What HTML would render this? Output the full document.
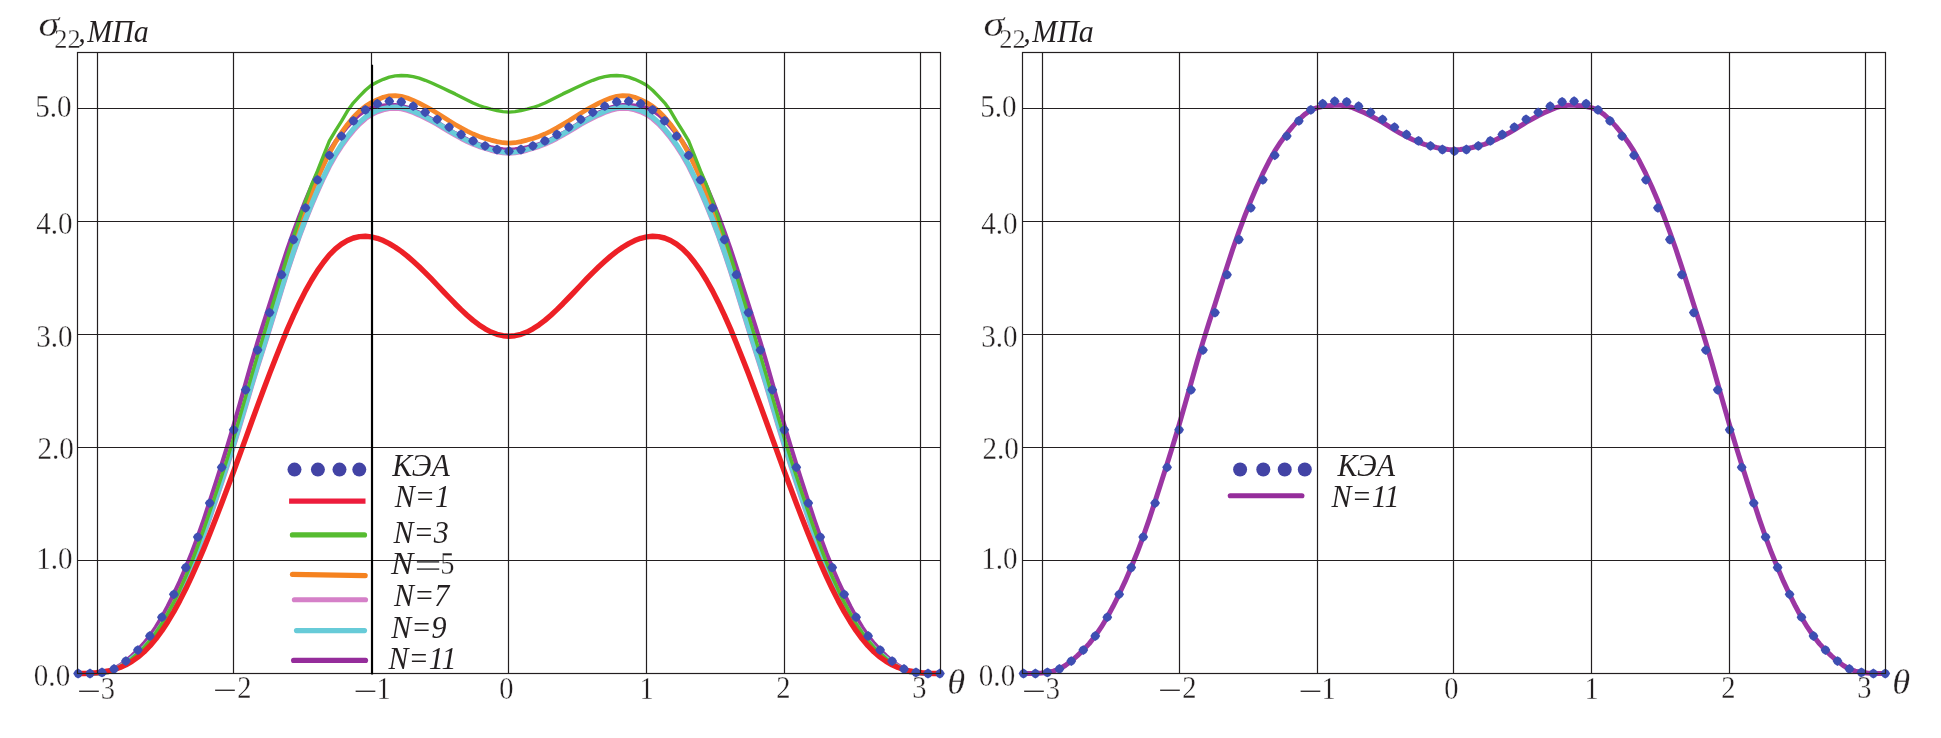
<!DOCTYPE html>
<html lang="ru"><head><meta charset="utf-8"><title>σ22 — КЭА, N</title>
<style>
html,body{margin:0;padding:0;background:#fff;}
svg{display:block;will-change:transform;}
text{font-family:"Liberation Serif","DejaVu Serif",serif;fill:#231f20;}
.it{font-style:italic;}
.t{stroke:#fff;stroke-width:0.3;}
.g{stroke:#231f20;stroke-width:1.2;fill:none;}
.c{fill:none;stroke-linejoin:round;stroke-linecap:round;}
</style></head><body>
<svg width="1941" height="738" viewBox="0 0 1941 738">
<rect width="1941" height="738" fill="#fff"/>
<defs><g id="d"><path d="M0,-4.9 Q3.6,-3.6 4.9,0 Q3.6,3.6 0,4.9 Q-3.6,3.6 -4.9,0 Q-3.6,-3.6 0,-4.9Z"/></g></defs>
<g transform="translate(0,0)">
<polyline class="c" stroke="#d683ca" stroke-width="5" points="78.1,673.5 84.1,673.5 90.0,673.5 96.0,673.4 102.0,672.8 108.0,671.8 114.0,669.9 120.0,666.8 125.9,662.9 131.9,658.5 137.9,653.7 143.9,648.3 149.9,641.8 155.9,634.0 161.9,625.4 167.8,615.8 173.8,605.2 179.8,593.5 185.8,580.7 191.8,566.6 197.8,551.4 203.8,535.1 209.7,518.1 215.7,500.7 221.7,482.9 227.7,464.6 233.7,445.8 239.7,426.2 245.7,406.2 251.6,386.3 257.6,366.8 263.6,348.0 269.6,329.0 275.6,309.5 281.6,289.9 287.5,271.1 293.5,253.1 299.5,236.2 305.5,220.3 311.5,205.5 317.5,191.5 323.5,178.3 329.4,166.3 335.4,155.7 341.4,146.4 347.4,138.0 353.4,130.6 359.4,124.1 365.4,118.8 371.3,114.7 377.3,111.8 383.3,109.8 389.3,108.6 395.3,108.3 401.3,108.8 407.3,110.3 413.2,112.5 419.2,115.1 425.2,118.0 431.2,121.1 437.2,124.4 443.2,128.0 449.1,131.6 455.1,135.1 461.1,138.4 467.1,141.4 473.1,144.2 479.1,146.5 485.1,148.4 491.0,150.2 497.0,151.7 503.0,152.8 509.0,153.2 515.0,152.8 521.0,151.7 527.0,150.2 532.9,148.4 538.9,146.5 544.9,144.2 550.9,141.4 556.9,138.4 562.9,135.1 568.9,131.6 574.8,128.0 580.8,124.4 586.8,121.1 592.8,118.0 598.8,115.1 604.8,112.5 610.7,110.3 616.7,108.8 622.7,108.3 628.7,108.6 634.7,109.8 640.7,111.8 646.7,114.7 652.6,118.8 658.6,124.1 664.6,130.6 670.6,138.0 676.6,146.4 682.6,155.7 688.6,166.3 694.5,178.3 700.5,191.5 706.5,205.5 712.5,220.3 718.5,236.2 724.5,253.1 730.5,271.1 736.4,289.9 742.4,309.5 748.4,329.0 754.4,348.0 760.4,366.8 766.4,386.3 772.3,406.2 778.3,426.2 784.3,445.8 790.3,464.6 796.3,482.9 802.3,500.7 808.3,518.1 814.2,535.1 820.2,551.4 826.2,566.6 832.2,580.7 838.2,593.5 844.2,605.2 850.2,615.8 856.1,625.4 862.1,634.0 868.1,641.8 874.1,648.3 880.1,653.7 886.1,658.5 892.1,662.9 898.0,666.8 904.0,669.9 910.0,671.8 916.0,672.8 922.0,673.4 928.0,673.5 933.9,673.5 939.9,673.5"/>
<polyline class="c" stroke="#9b36a3" stroke-width="4.4" points="78.1,673.5 84.1,673.5 90.0,673.5 96.0,673.1 102.0,672.4 108.0,671.1 114.0,669.0 120.0,665.5 125.9,661.1 131.9,655.9 137.9,650.1 143.9,643.6 149.9,636.0 155.9,627.2 161.9,617.2 167.8,606.3 173.8,594.3 179.8,581.4 185.8,567.5 191.8,552.8 197.8,536.8 203.8,519.6 209.7,501.6 215.7,483.1 221.7,464.3 227.7,445.1 233.7,425.2 239.7,404.4 245.7,383.2 251.6,362.3 257.6,342.1 263.6,323.1 269.6,304.5 275.6,285.6 281.6,266.9 287.5,249.0 293.5,232.0 299.5,215.9 305.5,200.8 311.5,186.7 317.5,173.7 323.5,161.8 329.4,151.1 335.4,141.9 341.4,133.8 347.4,126.4 353.4,119.9 359.4,114.4 365.4,110.2 371.3,107.9 377.3,106.6 383.3,105.7 389.3,105.2 395.3,105.2 401.3,106.0 407.3,107.7 413.2,110.1 419.2,112.8 425.2,115.7 431.2,119.0 437.2,122.4 443.2,126.1 449.1,129.8 455.1,133.3 461.1,136.5 467.1,139.5 473.1,142.2 479.1,144.3 485.1,146.0 491.0,147.5 497.0,148.7 503.0,149.5 509.0,149.9 515.0,149.5 521.0,148.7 527.0,147.5 532.9,146.0 538.9,144.3 544.9,142.2 550.9,139.5 556.9,136.5 562.9,133.3 568.9,129.8 574.8,126.1 580.8,122.4 586.8,119.0 592.8,115.7 598.8,112.8 604.8,110.1 610.7,107.7 616.7,106.0 622.7,105.2 628.7,105.2 634.7,105.7 640.7,106.6 646.7,107.9 652.6,110.2 658.6,114.4 664.6,119.9 670.6,126.4 676.6,133.8 682.6,141.9 688.6,151.1 694.5,161.8 700.5,173.7 706.5,186.7 712.5,200.8 718.5,215.9 724.5,232.0 730.5,249.0 736.4,266.9 742.4,285.6 748.4,304.5 754.4,323.1 760.4,342.1 766.4,362.3 772.3,383.2 778.3,404.4 784.3,425.2 790.3,445.1 796.3,464.3 802.3,483.1 808.3,501.6 814.2,519.6 820.2,536.8 826.2,552.8 832.2,567.5 838.2,581.4 844.2,594.3 850.2,606.3 856.1,617.2 862.1,627.2 868.1,636.0 874.1,643.6 880.1,650.1 886.1,655.9 892.1,661.1 898.0,665.5 904.0,669.0 910.0,671.1 916.0,672.4 922.0,673.1 928.0,673.5 933.9,673.5 939.9,673.5"/>
<polyline class="c" stroke="#f6872a" stroke-width="4.7" points="78.1,673.5 84.1,673.5 90.0,673.5 96.0,673.4 102.0,672.9 108.0,671.9 114.0,670.0 120.0,666.9 125.9,662.9 131.9,658.5 137.9,653.5 143.9,647.8 149.9,641.1 155.9,633.1 161.9,624.2 167.8,614.3 173.8,603.4 179.8,591.3 185.8,578.1 191.8,563.6 197.8,548.1 203.8,531.5 209.7,514.3 215.7,496.6 221.7,478.6 227.7,460.1 233.7,441.0 239.7,420.9 245.7,400.3 251.6,379.7 257.6,359.6 263.6,340.1 269.6,320.6 275.6,300.5 281.6,280.4 287.5,261.0 293.5,242.5 299.5,225.1 305.5,208.6 311.5,193.1 317.5,178.6 323.5,165.3 329.4,153.1 335.4,142.3 341.4,132.7 347.4,124.4 353.4,117.2 359.4,111.1 365.4,106.2 371.3,102.6 377.3,99.7 383.3,97.3 389.3,95.9 395.3,95.6 401.3,96.3 407.3,98.0 413.2,100.4 419.2,103.2 425.2,106.3 431.2,109.6 437.2,113.2 443.2,117.0 449.1,120.8 455.1,124.4 461.1,127.9 467.1,131.1 473.1,134.0 479.1,136.4 485.1,138.4 491.0,140.1 497.0,141.6 503.0,142.7 509.0,143.1 515.0,142.7 521.0,141.6 527.0,140.1 532.9,138.4 538.9,136.4 544.9,134.0 550.9,131.1 556.9,127.9 562.9,124.4 568.9,120.8 574.8,117.0 580.8,113.2 586.8,109.6 592.8,106.3 598.8,103.2 604.8,100.4 610.7,98.0 616.7,96.3 622.7,95.6 628.7,95.9 634.7,97.3 640.7,99.7 646.7,102.6 652.6,106.2 658.6,111.1 664.6,117.2 670.6,124.4 676.6,132.7 682.6,142.3 688.6,153.1 694.5,165.3 700.5,178.6 706.5,193.1 712.5,208.6 718.5,225.1 724.5,242.5 730.5,261.0 736.4,280.4 742.4,300.5 748.4,320.6 754.4,340.1 760.4,359.6 766.4,379.7 772.3,400.3 778.3,420.9 784.3,441.0 790.3,460.1 796.3,478.6 802.3,496.6 808.3,514.3 814.2,531.5 820.2,548.1 826.2,563.6 832.2,578.1 838.2,591.3 844.2,603.4 850.2,614.3 856.1,624.2 862.1,633.1 868.1,641.1 874.1,647.8 880.1,653.5 886.1,658.5 892.1,662.9 898.0,666.9 904.0,670.0 910.0,671.9 916.0,672.9 922.0,673.4 928.0,673.5 933.9,673.5 939.9,673.5"/>
<polyline class="c" stroke="#68ccd9" stroke-width="5.1" points="78.1,673.5 84.1,673.5 90.0,673.5 96.0,673.4 102.0,672.8 108.0,671.8 114.0,669.9 120.0,666.8 125.9,662.8 131.9,658.4 137.9,653.5 143.9,647.9 149.9,641.2 155.9,633.4 161.9,624.7 167.8,615.0 173.8,604.3 179.8,592.6 185.8,579.6 191.8,565.4 197.8,550.1 203.8,533.7 209.7,516.6 215.7,499.1 221.7,481.2 227.7,462.9 233.7,444.1 239.7,424.5 245.7,404.6 251.6,384.7 257.6,365.2 263.6,346.4 269.6,327.5 275.6,308.0 281.6,288.5 287.5,269.7 293.5,251.8 299.5,234.8 305.5,219.0 311.5,204.1 317.5,190.0 323.5,176.8 329.4,164.7 335.4,154.1 341.4,144.7 347.4,136.3 353.4,128.9 359.4,122.4 365.4,117.2 371.3,113.2 377.3,110.4 383.3,108.5 389.3,107.4 395.3,107.0 401.3,107.6 407.3,109.1 413.2,111.3 419.2,113.9 425.2,116.8 431.2,119.9 437.2,123.2 443.2,126.8 449.1,130.5 455.1,134.0 461.1,137.3 467.1,140.4 473.1,143.2 479.1,145.5 485.1,147.5 491.0,149.4 497.0,150.9 503.0,152.0 509.0,152.5 515.0,152.0 521.0,150.9 527.0,149.4 532.9,147.5 538.9,145.5 544.9,143.2 550.9,140.4 556.9,137.3 562.9,134.0 568.9,130.5 574.8,126.8 580.8,123.2 586.8,119.9 592.8,116.8 598.8,113.9 604.8,111.3 610.7,109.1 616.7,107.6 622.7,107.0 628.7,107.4 634.7,108.5 640.7,110.4 646.7,113.2 652.6,117.2 658.6,122.4 664.6,128.9 670.6,136.3 676.6,144.7 682.6,154.1 688.6,164.7 694.5,176.8 700.5,190.0 706.5,204.1 712.5,219.0 718.5,234.8 724.5,251.8 730.5,269.7 736.4,288.5 742.4,308.0 748.4,327.5 754.4,346.4 760.4,365.2 766.4,384.7 772.3,404.6 778.3,424.5 784.3,444.1 790.3,462.9 796.3,481.2 802.3,499.1 808.3,516.6 814.2,533.7 820.2,550.1 826.2,565.4 832.2,579.6 838.2,592.6 844.2,604.3 850.2,615.0 856.1,624.7 862.1,633.4 868.1,641.2 874.1,647.9 880.1,653.5 886.1,658.4 892.1,662.8 898.0,666.8 904.0,669.9 910.0,671.8 916.0,672.8 922.0,673.4 928.0,673.5 933.9,673.5 939.9,673.5"/>
<polyline class="c" stroke="#55bb2f" stroke-width="3.4" points="78.1,673.5 84.1,673.3 90.0,673.3 96.0,673.4 102.0,673.1 108.0,672.1 114.0,670.0 120.0,666.9 125.9,663.0 131.9,658.6 137.9,653.4 143.9,647.6 149.9,640.7 155.9,632.7 161.9,623.6 167.8,613.4 173.8,602.2 179.8,589.9 185.8,576.5 191.8,561.8 197.8,546.1 203.8,529.4 209.7,512.0 215.7,494.2 221.7,476.0 227.7,457.4 233.7,438.0 239.7,417.6 245.7,396.6 251.6,375.7 257.6,355.3 263.6,335.2 269.6,315.1 275.6,295.0 281.6,275.0 287.5,255.5 293.5,236.8 299.5,218.8 305.5,201.1 311.5,185.0 317.5,170.9 323.5,155.6 329.4,140.8 335.4,130.8 341.4,121.3 347.4,111.1 353.4,102.8 359.4,96.4 365.4,90.3 371.3,85.2 377.3,82.0 383.3,79.3 389.3,77.1 395.3,75.9 401.3,75.5 407.3,75.7 413.2,76.6 419.2,78.2 425.2,80.3 431.2,82.8 437.2,85.5 443.2,88.3 449.1,91.1 455.1,93.9 461.1,96.9 467.1,100.0 473.1,103.0 479.1,105.5 485.1,107.5 491.0,109.1 497.0,110.5 503.0,111.6 509.0,112.1 515.0,111.6 521.0,110.5 527.0,109.1 532.9,107.5 538.9,105.5 544.9,103.0 550.9,100.0 556.9,96.9 562.9,93.9 568.9,91.1 574.8,88.3 580.8,85.5 586.8,82.8 592.8,80.3 598.8,78.2 604.8,76.6 610.7,75.7 616.7,75.5 622.7,75.9 628.7,77.1 634.7,79.3 640.7,82.0 646.7,85.2 652.6,90.3 658.6,96.4 664.6,102.8 670.6,111.1 676.6,121.3 682.6,130.8 688.6,140.8 694.5,155.6 700.5,170.9 706.5,185.0 712.5,201.1 718.5,218.8 724.5,236.8 730.5,255.5 736.4,275.0 742.4,295.0 748.4,315.1 754.4,335.2 760.4,355.3 766.4,375.7 772.3,396.6 778.3,417.6 784.3,438.0 790.3,457.4 796.3,476.0 802.3,494.2 808.3,512.0 814.2,529.4 820.2,546.1 826.2,561.8 832.2,576.5 838.2,589.9 844.2,602.2 850.2,613.4 856.1,623.6 862.1,632.7 868.1,640.7 874.1,647.6 880.1,653.4 886.1,658.6 892.1,663.0 898.0,666.9 904.0,670.0 910.0,672.1 916.0,673.1 922.0,673.4 928.0,673.3 933.9,673.3 939.9,673.5"/>
<polyline class="c" stroke="#ed2026" stroke-width="5.4" points="78.1,673.5 84.1,673.5 90.0,673.3 96.0,672.8 102.0,672.1 108.0,671.0 114.0,669.5 120.0,667.5 125.9,664.8 131.9,661.4 137.9,657.1 143.9,652.0 149.9,645.9 155.9,638.8 161.9,630.7 167.8,621.7 173.8,611.6 179.8,600.6 185.8,588.8 191.8,576.1 197.8,562.7 203.8,548.6 209.7,534.0 215.7,518.8 221.7,503.2 227.7,487.3 233.7,471.2 239.7,454.8 245.7,438.4 251.6,422.0 257.6,405.6 263.6,389.5 269.6,373.6 275.6,358.2 281.6,343.2 287.5,328.9 293.5,315.4 299.5,302.7 305.5,290.9 311.5,280.2 317.5,270.6 323.5,262.2 329.4,254.9 335.4,248.9 341.4,244.1 347.4,240.5 353.4,238.0 359.4,236.6 365.4,236.3 371.3,236.9 377.3,238.3 383.3,240.6 389.3,243.6 395.3,247.2 401.3,251.4 407.3,256.1 413.2,261.3 419.2,266.8 425.2,272.6 431.2,278.7 437.2,285.0 443.2,291.3 449.1,297.5 455.1,303.7 461.1,309.6 467.1,315.2 473.1,320.4 479.1,324.9 485.1,328.8 491.0,332.0 497.0,334.3 503.0,335.7 509.0,336.2 515.0,335.7 521.0,334.3 527.0,332.0 532.9,328.8 538.9,324.9 544.9,320.4 550.9,315.2 556.9,309.6 562.9,303.7 568.9,297.5 574.8,291.3 580.8,285.0 586.8,278.7 592.8,272.6 598.8,266.8 604.8,261.3 610.7,256.1 616.7,251.4 622.7,247.2 628.7,243.6 634.7,240.6 640.7,238.3 646.7,236.9 652.6,236.3 658.6,236.6 664.6,238.0 670.6,240.5 676.6,244.1 682.6,248.9 688.6,254.9 694.5,262.2 700.5,270.6 706.5,280.2 712.5,290.9 718.5,302.7 724.5,315.4 730.5,328.9 736.4,343.2 742.4,358.2 748.4,373.6 754.4,389.5 760.4,405.6 766.4,422.0 772.3,438.4 778.3,454.8 784.3,471.2 790.3,487.3 796.3,503.2 802.3,518.8 808.3,534.0 814.2,548.6 820.2,562.7 826.2,576.1 832.2,588.8 838.2,600.6 844.2,611.6 850.2,621.7 856.1,630.7 862.1,638.8 868.1,645.9 874.1,652.0 880.1,657.1 886.1,661.4 892.1,664.8 898.0,667.5 904.0,669.5 910.0,671.0 916.0,672.1 922.0,672.8 928.0,673.3 933.9,673.5 939.9,673.5"/>
<path class="g" d="M77.5,108.5 H940.5"/>
<path class="g" d="M77.5,221.5 H940.5"/>
<path class="g" d="M77.5,334.5 H940.5"/>
<path class="g" d="M77.5,447.5 H940.5"/>
<path class="g" d="M77.5,560.5 H940.5"/>
<g fill="#3e4eb2"><use href="#d" x="78.1" y="673.5"/><use href="#d" x="90.0" y="673.5"/><use href="#d" x="102.0" y="672.4"/><use href="#d" x="114.0" y="669.0"/><use href="#d" x="125.9" y="661.1"/><use href="#d" x="137.9" y="650.1"/><use href="#d" x="149.9" y="636.0"/><use href="#d" x="161.9" y="617.2"/><use href="#d" x="173.8" y="594.3"/><use href="#d" x="185.8" y="567.5"/><use href="#d" x="197.8" y="537.1"/><use href="#d" x="209.7" y="503.1"/><use href="#d" x="221.7" y="467.3"/><use href="#d" x="233.7" y="429.8"/><use href="#d" x="245.7" y="389.8"/><use href="#d" x="257.6" y="350.1"/><use href="#d" x="269.6" y="312.6"/><use href="#d" x="281.6" y="274.7"/><use href="#d" x="293.5" y="239.5"/><use href="#d" x="305.5" y="207.8"/><use href="#d" x="317.5" y="179.8"/><use href="#d" x="329.4" y="155.3"/><use href="#d" x="341.4" y="136.1"/><use href="#d" x="353.4" y="120.9"/><use href="#d" x="365.4" y="109.9"/><use href="#d" x="377.3" y="103.6"/><use href="#d" x="389.3" y="101.2"/><use href="#d" x="401.3" y="101.9"/><use href="#d" x="413.2" y="106.2"/><use href="#d" x="425.2" y="112.3"/><use href="#d" x="437.2" y="119.3"/><use href="#d" x="449.1" y="127.1"/><use href="#d" x="461.1" y="134.5"/><use href="#d" x="473.1" y="140.9"/><use href="#d" x="485.1" y="145.8"/><use href="#d" x="497.0" y="149.5"/><use href="#d" x="509.0" y="151.2"/><use href="#d" x="521.0" y="149.5"/><use href="#d" x="532.9" y="145.8"/><use href="#d" x="544.9" y="140.9"/><use href="#d" x="556.9" y="134.5"/><use href="#d" x="568.9" y="127.1"/><use href="#d" x="580.8" y="119.3"/><use href="#d" x="592.8" y="112.3"/><use href="#d" x="604.8" y="106.2"/><use href="#d" x="616.7" y="101.9"/><use href="#d" x="628.7" y="101.2"/><use href="#d" x="640.7" y="103.6"/><use href="#d" x="652.6" y="109.9"/><use href="#d" x="664.6" y="120.9"/><use href="#d" x="676.6" y="136.1"/><use href="#d" x="688.6" y="155.3"/><use href="#d" x="700.5" y="179.8"/><use href="#d" x="712.5" y="207.8"/><use href="#d" x="724.5" y="239.5"/><use href="#d" x="736.4" y="274.7"/><use href="#d" x="748.4" y="312.6"/><use href="#d" x="760.4" y="350.1"/><use href="#d" x="772.3" y="389.8"/><use href="#d" x="784.3" y="429.8"/><use href="#d" x="796.3" y="467.3"/><use href="#d" x="808.3" y="503.1"/><use href="#d" x="820.2" y="537.1"/><use href="#d" x="832.2" y="567.5"/><use href="#d" x="844.2" y="594.3"/><use href="#d" x="856.1" y="617.2"/><use href="#d" x="868.1" y="636.0"/><use href="#d" x="880.1" y="650.1"/><use href="#d" x="892.1" y="661.1"/><use href="#d" x="904.0" y="669.0"/><use href="#d" x="916.0" y="672.4"/><use href="#d" x="928.0" y="673.5"/><use href="#d" x="939.9" y="673.5"/></g>
<path class="g" d="M97.5,52.5 V673.5"/>
<path class="g" d="M233.5,52.5 V673.5"/>
<path class="g" d="M371.5,52.5 V673.5"/>
<path class="g" d="M508.5,52.5 V673.5"/>
<path class="g" d="M646.5,52.5 V673.5"/>
<path class="g" d="M784.5,52.5 V673.5"/>
<path class="g" d="M920.5,52.5 V673.5"/>
<rect class="g" x="77.5" y="52.5" width="863" height="621"/>
<text class="t" transform="translate(71.6,116.8) scale(0.97,1.055)" font-size="30" text-anchor="end">5.0</text>
<text class="t" transform="translate(72.6,233.5) scale(0.97,1.055)" font-size="30" text-anchor="end">4.0</text>
<text class="t" transform="translate(72.6,346.5) scale(0.97,1.055)" font-size="30" text-anchor="end">3.0</text>
<text class="t" transform="translate(73.8,458.5) scale(0.97,1.055)" font-size="30" text-anchor="end">2.0</text>
<text class="t" transform="translate(72.6,569) scale(0.97,1.055)" font-size="30" text-anchor="end">1.0</text>
<text class="t" transform="translate(70.2,686) scale(0.97,1.055)" font-size="30" text-anchor="end">0.0</text>
<text transform="translate(100.9,699.7) scale(1.41,0.9)" font-size="30" text-anchor="end">−</text><text class="t" transform="translate(107.8,698.5) scale(0.95,1.055)" font-size="30" text-anchor="middle">3</text>
<text transform="translate(236.9,699.4) scale(1.41,0.9)" font-size="30" text-anchor="end">−</text><text class="t" transform="translate(244.4,698.2) scale(0.95,1.055)" font-size="30" text-anchor="middle">2</text>
<text transform="translate(377.4,700) scale(1.41,0.9)" font-size="30" text-anchor="end">−</text><text class="t" transform="translate(383.6,698.8) scale(0.95,1.055)" font-size="30" text-anchor="middle">1</text>
<text class="t" transform="translate(506.4,698.6) scale(0.95,1.055)" font-size="30" text-anchor="middle">0</text>
<text class="t" transform="translate(646.6,698.8) scale(0.95,1.055)" font-size="30" text-anchor="middle">1</text>
<text class="t" transform="translate(783.3,698.4) scale(0.95,1.055)" font-size="30" text-anchor="middle">2</text>
<text class="t" transform="translate(919.5,698) scale(0.95,1.055)" font-size="30" text-anchor="middle">3</text>
<text class="it t" x="947.2" y="694.4" font-size="36.5">θ</text>
<text class="it t" transform="translate(38.5,36) scale(1.2,1)" font-size="35">σ</text><text class="t" x="54.2" y="47.5" font-size="26.4">22</text><text class="it" x="78.2" y="42" font-size="30">,</text><text class="it" transform="translate(87.3,41.9) scale(0.966,1)" font-size="31">МПа</text>
</g>
<path d="M372.1,64.8 V674.6" stroke="#000" stroke-width="2" fill="none"/>
<g fill="#4243a5"><circle cx="294.5" cy="469.6" r="7"/><circle cx="317.9" cy="469.6" r="7"/><circle cx="339.5" cy="469.6" r="7"/><circle cx="359.3" cy="469.6" r="7"/></g>
<path d="M289.1,501.2 H365.5" stroke="#ed1c3c" stroke-width="5.2" fill="none"/>
<path d="M292.4,534.9 L364.5,534.9" stroke="#56bc30" stroke-width="5.2" stroke-linecap="round" fill="none"/>
<path d="M292.35,574.4 L365.25,575.6" stroke="#f5821f" stroke-width="5.1" stroke-linecap="round" fill="none"/>
<path d="M294.35,599.7 L365.55,599.7" stroke="#d580c8" stroke-width="5.1" stroke-linecap="round" fill="none"/>
<path d="M296.45,630.6 L364.55,630.6" stroke="#67cbd8" stroke-width="5.1" stroke-linecap="round" fill="none"/>
<path d="M293.55,660.4 L365.55,660.4" stroke="#952d9b" stroke-width="5.1" stroke-linecap="round" fill="none"/>
<text class="it" transform="translate(421,476.3) scale(1,1.045)" font-size="30" text-anchor="middle">КЭА</text>
<text class="it" transform="translate(422.3,506.7) scale(1,1.045)" font-size="30" text-anchor="middle">N=1</text>
<text class="it" transform="translate(421.2,542.8) scale(1,1.045)" font-size="30" text-anchor="middle">N=3</text>
<text class="it" transform="translate(421.6,605.7) scale(1,1.045)" font-size="30" text-anchor="middle">N=7</text>
<text class="it" transform="translate(418.8,638.1) scale(1,1.045)" font-size="30" text-anchor="middle">N=9</text>
<text class="it" transform="translate(422.5,668.9) scale(1,1.045)" font-size="30" text-anchor="middle">N=11</text>
<text class="it" transform="translate(391.0,573.8) scale(1.12,1.03)" font-size="30">N</text><text transform="translate(414.4,577.5) scale(1.6,1.22)" font-size="30" style="fill:#58595b">=</text><text class="t" transform="translate(440.2,573.7) scale(0.95,1.055)" font-size="30">5</text>
<path class="g" d="M384,560.5 H462"/>
<g transform="translate(945,0)">
<polyline class="c" stroke="#9b36a3" stroke-width="5" points="78.4,673.5 84.4,673.5 90.3,673.5 96.3,673.1 102.3,672.4 108.3,671.1 114.3,669.0 120.3,665.5 126.2,661.1 132.2,655.9 138.2,650.1 144.2,643.6 150.2,636.0 156.2,627.2 162.2,617.2 168.1,606.3 174.1,594.3 180.1,581.4 186.1,567.5 192.1,552.8 198.1,536.8 204.1,519.6 210.0,501.6 216.0,483.1 222.0,464.3 228.0,445.1 234.0,425.2 240.0,404.4 246.0,383.2 251.9,362.3 257.9,342.1 263.9,323.1 269.9,304.5 275.9,285.6 281.9,266.9 287.8,249.0 293.8,232.0 299.8,215.9 305.8,200.8 311.8,186.7 317.8,173.7 323.8,161.8 329.7,151.1 335.7,141.9 341.7,133.8 347.7,126.4 353.7,119.9 359.7,114.4 365.7,110.2 371.6,107.9 377.6,106.6 383.6,105.7 389.6,105.2 395.6,105.2 401.6,106.0 407.6,107.7 413.5,110.1 419.5,112.8 425.5,115.7 431.5,119.0 437.5,122.4 443.5,126.1 449.4,129.8 455.4,133.3 461.4,136.5 467.4,139.5 473.4,142.2 479.4,144.3 485.4,146.0 491.3,147.5 497.3,148.7 503.3,149.5 509.3,149.9 515.3,149.5 521.3,148.7 527.3,147.5 533.2,146.0 539.2,144.3 545.2,142.2 551.2,139.5 557.2,136.5 563.2,133.3 569.2,129.8 575.1,126.1 581.1,122.4 587.1,119.0 593.1,115.7 599.1,112.8 605.1,110.1 611.0,107.7 617.0,106.0 623.0,105.2 629.0,105.2 635.0,105.7 641.0,106.6 647.0,107.9 652.9,110.2 658.9,114.4 664.9,119.9 670.9,126.4 676.9,133.8 682.9,141.9 688.9,151.1 694.8,161.8 700.8,173.7 706.8,186.7 712.8,200.8 718.8,215.9 724.8,232.0 730.8,249.0 736.7,266.9 742.7,285.6 748.7,304.5 754.7,323.1 760.7,342.1 766.7,362.3 772.6,383.2 778.6,404.4 784.6,425.2 790.6,445.1 796.6,464.3 802.6,483.1 808.6,501.6 814.5,519.6 820.5,536.8 826.5,552.8 832.5,567.5 838.5,581.4 844.5,594.3 850.5,606.3 856.4,617.2 862.4,627.2 868.4,636.0 874.4,643.6 880.4,650.1 886.4,655.9 892.4,661.1 898.3,665.5 904.3,669.0 910.3,671.1 916.3,672.4 922.3,673.1 928.3,673.5 934.2,673.5 940.2,673.5"/>
<path class="g" d="M77.5,108.5 H940.5"/>
<path class="g" d="M77.5,221.5 H940.5"/>
<path class="g" d="M77.5,334.5 H940.5"/>
<path class="g" d="M77.5,447.5 H940.5"/>
<path class="g" d="M77.5,560.5 H940.5"/>
<g fill="#3e4eb2"><use href="#d" x="78.5" y="673.5"/><use href="#d" x="90.4" y="673.5"/><use href="#d" x="102.4" y="672.4"/><use href="#d" x="114.4" y="669.0"/><use href="#d" x="126.3" y="661.1"/><use href="#d" x="138.3" y="650.1"/><use href="#d" x="150.3" y="636.0"/><use href="#d" x="162.3" y="617.2"/><use href="#d" x="174.2" y="594.3"/><use href="#d" x="186.2" y="567.5"/><use href="#d" x="198.2" y="537.1"/><use href="#d" x="210.1" y="503.1"/><use href="#d" x="222.1" y="467.3"/><use href="#d" x="234.1" y="429.8"/><use href="#d" x="246.1" y="389.8"/><use href="#d" x="258.0" y="350.1"/><use href="#d" x="270.0" y="312.6"/><use href="#d" x="282.0" y="274.7"/><use href="#d" x="293.9" y="239.5"/><use href="#d" x="305.9" y="207.8"/><use href="#d" x="317.9" y="179.8"/><use href="#d" x="329.8" y="155.3"/><use href="#d" x="341.8" y="136.1"/><use href="#d" x="353.8" y="120.9"/><use href="#d" x="365.8" y="109.9"/><use href="#d" x="377.7" y="103.6"/><use href="#d" x="389.7" y="101.2"/><use href="#d" x="401.7" y="101.9"/><use href="#d" x="413.6" y="106.2"/><use href="#d" x="425.6" y="112.3"/><use href="#d" x="437.6" y="119.3"/><use href="#d" x="449.5" y="127.1"/><use href="#d" x="461.5" y="134.5"/><use href="#d" x="473.5" y="140.9"/><use href="#d" x="485.5" y="145.8"/><use href="#d" x="497.4" y="149.5"/><use href="#d" x="509.4" y="151.2"/><use href="#d" x="521.4" y="149.5"/><use href="#d" x="533.3" y="145.8"/><use href="#d" x="545.3" y="140.9"/><use href="#d" x="557.3" y="134.5"/><use href="#d" x="569.3" y="127.1"/><use href="#d" x="581.2" y="119.3"/><use href="#d" x="593.2" y="112.3"/><use href="#d" x="605.2" y="106.2"/><use href="#d" x="617.1" y="101.9"/><use href="#d" x="629.1" y="101.2"/><use href="#d" x="641.1" y="103.6"/><use href="#d" x="653.0" y="109.9"/><use href="#d" x="665.0" y="120.9"/><use href="#d" x="677.0" y="136.1"/><use href="#d" x="689.0" y="155.3"/><use href="#d" x="700.9" y="179.8"/><use href="#d" x="712.9" y="207.8"/><use href="#d" x="724.9" y="239.5"/><use href="#d" x="736.8" y="274.7"/><use href="#d" x="748.8" y="312.6"/><use href="#d" x="760.8" y="350.1"/><use href="#d" x="772.7" y="389.8"/><use href="#d" x="784.7" y="429.8"/><use href="#d" x="796.7" y="467.3"/><use href="#d" x="808.7" y="503.1"/><use href="#d" x="820.6" y="537.1"/><use href="#d" x="832.6" y="567.5"/><use href="#d" x="844.6" y="594.3"/><use href="#d" x="856.5" y="617.2"/><use href="#d" x="868.5" y="636.0"/><use href="#d" x="880.5" y="650.1"/><use href="#d" x="892.5" y="661.1"/><use href="#d" x="904.4" y="669.0"/><use href="#d" x="916.4" y="672.4"/><use href="#d" x="928.4" y="673.5"/><use href="#d" x="940.3" y="673.5"/></g>
<path class="g" d="M97.5,52.5 V673.5"/>
<path class="g" d="M234.5,52.5 V673.5"/>
<path class="g" d="M372.5,52.5 V673.5"/>
<path class="g" d="M508.5,52.5 V673.5"/>
<path class="g" d="M646.5,52.5 V673.5"/>
<path class="g" d="M784.5,52.5 V673.5"/>
<path class="g" d="M920.5,52.5 V673.5"/>
<rect class="g" x="77.5" y="52.5" width="863" height="621"/>
<text class="t" transform="translate(71.6,116.8) scale(0.97,1.055)" font-size="30" text-anchor="end">5.0</text>
<text class="t" transform="translate(72.6,233.5) scale(0.97,1.055)" font-size="30" text-anchor="end">4.0</text>
<text class="t" transform="translate(72.6,346.5) scale(0.97,1.055)" font-size="30" text-anchor="end">3.0</text>
<text class="t" transform="translate(73.8,458.5) scale(0.97,1.055)" font-size="30" text-anchor="end">2.0</text>
<text class="t" transform="translate(72.6,569) scale(0.97,1.055)" font-size="30" text-anchor="end">1.0</text>
<text class="t" transform="translate(70.2,686) scale(0.97,1.055)" font-size="30" text-anchor="end">0.0</text>
<text transform="translate(100.9,699.7) scale(1.41,0.9)" font-size="30" text-anchor="end">−</text><text class="t" transform="translate(107.8,698.5) scale(0.95,1.055)" font-size="30" text-anchor="middle">3</text>
<text transform="translate(236.9,699.4) scale(1.41,0.9)" font-size="30" text-anchor="end">−</text><text class="t" transform="translate(244.4,698.2) scale(0.95,1.055)" font-size="30" text-anchor="middle">2</text>
<text transform="translate(377.4,700) scale(1.41,0.9)" font-size="30" text-anchor="end">−</text><text class="t" transform="translate(383.6,698.8) scale(0.95,1.055)" font-size="30" text-anchor="middle">1</text>
<text class="t" transform="translate(506.4,698.6) scale(0.95,1.055)" font-size="30" text-anchor="middle">0</text>
<text class="t" transform="translate(646.6,698.8) scale(0.95,1.055)" font-size="30" text-anchor="middle">1</text>
<text class="t" transform="translate(783.3,698.4) scale(0.95,1.055)" font-size="30" text-anchor="middle">2</text>
<text class="t" transform="translate(919.5,698) scale(0.95,1.055)" font-size="30" text-anchor="middle">3</text>
<text class="it t" x="947.2" y="694.4" font-size="36.5">θ</text>
<text class="it t" transform="translate(38.5,36) scale(1.2,1)" font-size="35">σ</text><text class="t" x="54.2" y="47.5" font-size="26.4">22</text><text class="it" x="78.2" y="42" font-size="30">,</text><text class="it" transform="translate(87.3,41.9) scale(0.966,1)" font-size="31">МПа</text>
</g>
<g fill="#4243a5"><circle cx="1240.1" cy="469.5" r="7"/><circle cx="1263.3" cy="469.5" r="7"/><circle cx="1284.7" cy="469.5" r="7"/><circle cx="1304.8" cy="469.5" r="7"/></g>
<path d="M1230.25,495.7 L1301.95,495.7" stroke="#952d9b" stroke-width="5.1" stroke-linecap="round" fill="none"/>
<text class="it" transform="translate(1366.3,476.2) scale(1,1.045)" font-size="30" text-anchor="middle">КЭА</text>
<text class="it" transform="translate(1365.6,507.3) scale(1,1.045)" font-size="30" text-anchor="middle">N=11</text>
</svg>
</body></html>
